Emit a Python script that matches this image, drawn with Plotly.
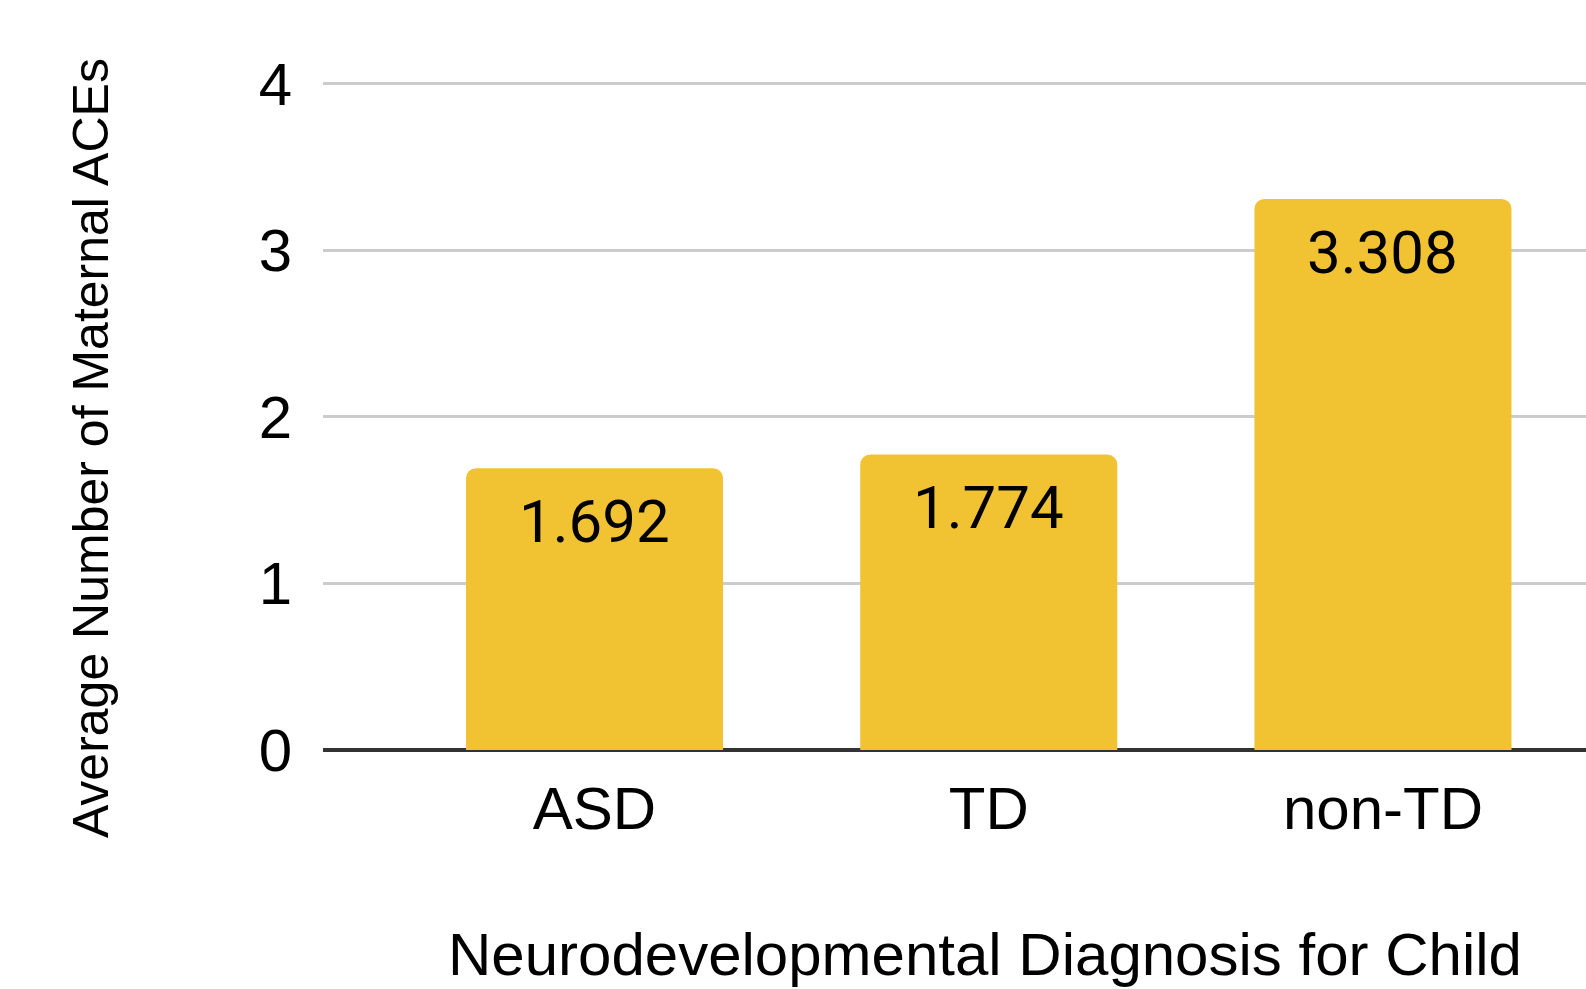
import plotly.graph_objects as go

# Average number of maternal ACEs by child's neurodevelopmental diagnosis
categories = ["ASD", "TD", "non-TD"]
avg_aces = [1.692, 1.774, 3.308]
y_ticks = [0, 1, 2, 3, 4]

BAR_COLOR = "#F1C232"
AXIS_FONT = "Liberation Sans, Arial, Helvetica, sans-serif"
LABEL_FONT = "Roboto, sans-serif"

fig = go.Figure()
fig.add_trace(go.Bar(
    x=categories,
    y=avg_aces,
    marker=dict(color=BAR_COLOR, line=dict(width=0), cornerradius=10),
    hoverinfo="skip",
))

# value labels just inside the top of each bar
value_labels = [
    dict(
        x=cat, y=val, xref="x", yref="y",
        text=f"{val:.3f}",
        xanchor="center", yanchor="top",
        yshift=-16,
        showarrow=False,
        font=dict(family=LABEL_FONT, size=60, color="#000000"),
    )
    for cat, val in zip(categories, avg_aces)
]

fig.update_layout(
    width=1586,
    height=989,
    margin=dict(l=323, r=0, t=67, b=239),
    paper_bgcolor="white",
    plot_bgcolor="white",
    bargap=0.348,
    showlegend=False,
    xaxis=dict(
        range=[-0.6887, 2.515],
        showgrid=False,
        showline=False,
        zeroline=False,
        ticks="",
        tickfont=dict(family=AXIS_FONT, size=60, color="#000000"),
        ticklabelstandoff=18,
    ),
    yaxis=dict(
        range=[0, 4.1],
        tickvals=y_ticks,
        ticktext=[str(t) for t in y_ticks],
        showgrid=True,
        gridcolor="#CCCCCC",
        gridwidth=3,
        zeroline=True,
        zerolinecolor="#333333",
        zerolinewidth=4,
        showline=False,
        ticks="",
        tickfont=dict(family=AXIS_FONT, size=60, color="#000000"),
        ticklabelstandoff=30,
    ),
    annotations=value_labels + [
        dict(
            text="Average Number of Maternal ACEs",
            xref="paper", yref="paper",
            x=-0.1837, y=0.442,
            xanchor="center", yanchor="middle",
            textangle=-90,
            showarrow=False,
            font=dict(family=AXIS_FONT, size=50, color="#000000"),
        ),
        dict(
            text="Neurodevelopmental Diagnosis for Child",
            xref="paper", yref="paper",
            x=0.524, y=-0.300,
            xanchor="center", yanchor="middle",
            showarrow=False,
            font=dict(family=AXIS_FONT, size=60, color="#000000"),
        ),
    ],
)

fig.write_html("out.html")
